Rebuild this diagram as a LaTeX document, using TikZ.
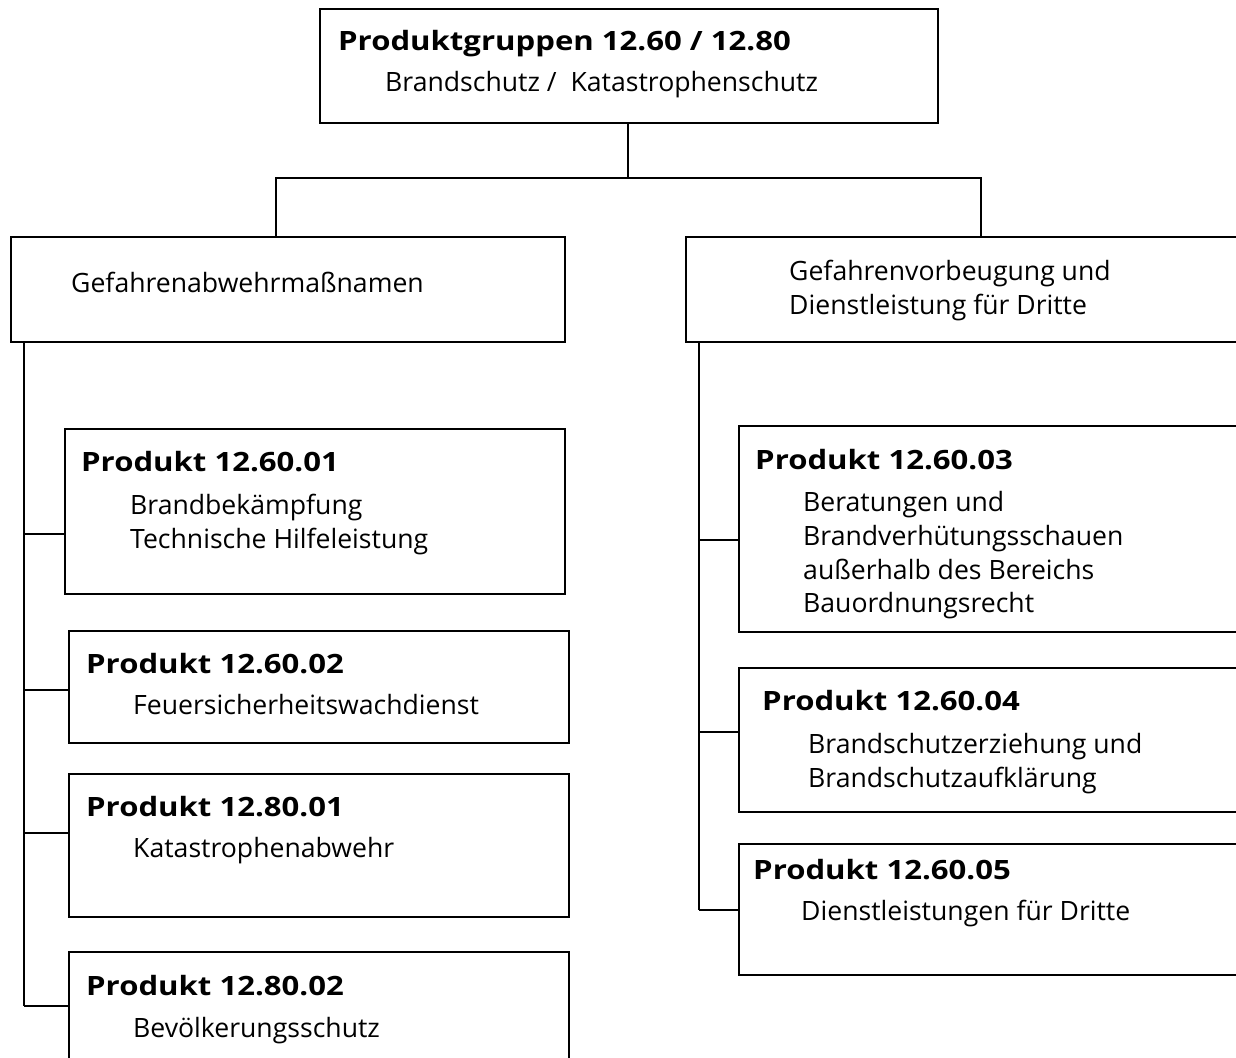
\documentclass[tikz,border=0pt]{standalone}
\usepackage{fontspec}
\setmainfont{Open Sans}
\newfontfamily\bwide{Open Sans}[FakeStretch=1.17]
\begin{document}
\begin{tikzpicture}[x=1pt,y=-1pt,
  box/.style={draw,line width=1.6pt,inner sep=0pt,anchor=north west},
  txt/.style={anchor=base west,inner sep=0pt,font=\fontsize{26.6}{34}\selectfont},
  btxt/.style={anchor=base west,inner sep=0pt,font=\bwide\fontsize{26.6}{34}\selectfont\bfseries},
  link/.style={line width=1.6pt}]
\useasboundingbox (0,0) rectangle (1236,1057);
\fill[white] (0,0) rectangle (1236,1057);
\clip (0,0) rectangle (1236,1057);
% boxes
\node[box,minimum width=618pt,minimum height=114pt] (top) at (319,8) {};
\node[box,minimum width=554pt,minimum height=105pt] (lm) at (10,236) {};
\node[box,minimum width=640pt,minimum height=105pt] (rm) at (685,236) {};
\node[box,minimum width=500pt,minimum height=165pt] (b1) at (64,428) {};
\node[box,minimum width=500pt,minimum height=112pt] (b2) at (68,630) {};
\node[box,minimum width=500pt,minimum height=143pt] (b3) at (68,773) {};
\node[box,minimum width=500pt,minimum height=160pt] (b4) at (68,951) {};
\node[box,minimum width=600pt,minimum height=206pt] (r1) at (738,425) {};
\node[box,minimum width=600pt,minimum height=144pt] (r2) at (738,667) {};
\node[box,minimum width=600pt,minimum height=131pt] (r3) at (738,843) {};
% texts
\node[btxt] (t1) at (338,51) {Produktgruppen 12.60 / 12.80};
\node[txt] (t2) at (385,92) {Brandschutz /\ \ Katastrophenschutz};
\node[txt] (lmt) at (71,292) {Gefahrenabwehrmaßnamen};
\node[txt] (rmt1) at (789,280) {Gefahrenvorbeugung und};
\node[txt] (rmt2) at (789,314) {Dienstleistung für Dritte};
\node[btxt] (b1a) at (81,471) {Produkt 12.60.01};
\node[txt] (b1b) at (130,514) {Brandbekämpfung};
\node[txt] (b1c) at (130,548) {Technische Hilfeleistung};
\node[btxt] (b2a) at (86,673) {Produkt 12.60.02};
\node[txt] (b2b) at (133,714) {Feuersicherheitswachdienst};
\node[btxt] (b3a) at (86,816) {Produkt 12.80.01};
\node[txt] (b3b) at (133,857) {Katastrophenabwehr};
\node[btxt] (b4a) at (86,995) {Produkt 12.80.02};
\node[txt] (b4b) at (133,1037) {Bevölkerungsschutz};
\node[btxt] (r1a) at (755,469) {Produkt 12.60.03};
\node[txt] (r1b) at (803,511) {Beratungen und};
\node[txt] (r1c) at (803,545) {Brandverhütungsschauen};
\node[txt] (r1d) at (803,579) {außerhalb des Bereichs};
\node[txt] (r1e) at (803,612) {Bauordnungsrecht};
\node[btxt] (r2a) at (762,710) {Produkt 12.60.04};
\node[txt] (r2b) at (808,753) {Brandschutzerziehung und};
\node[txt] (r2c) at (808,787) {Brandschutzaufklärung};
\node[btxt] (r3a) at (753,879) {Produkt 12.60.05};
\node[txt] (r3b) at (801,920) {Dienstleistungen für Dritte};
% connectors
\coordinate (bar) at (628,178);
\draw[link] (top.south -| bar) -- (bar);
\draw[link] (lm.north -| 276,0) |- (bar) -| (rm.north -| 981,0);
\coordinate (lt) at (24,341);
\coordinate (lend) at (24,1006);
\draw[link] (lt) -- (lend);
\draw[link] (lt |- 0,534) -- (b1.west |- 0,534);
\draw[link] (lt |- 0,690) -- (b2.west |- 0,690);
\draw[link] (lt |- 0,833) -- (b3.west |- 0,833);
\draw[link] (lend) -- (b4.west |- lend);
\coordinate (rt) at (699,341);
\coordinate (rend) at (699,910);
\draw[link] (rt) -- (rend);
\draw[link] (rt |- 0,540) -- (r1.west |- 0,540);
\draw[link] (rt |- 0,732) -- (r2.west |- 0,732);
\draw[link] (rend) -- (r3.west |- rend);
\end{tikzpicture}
\end{document}
